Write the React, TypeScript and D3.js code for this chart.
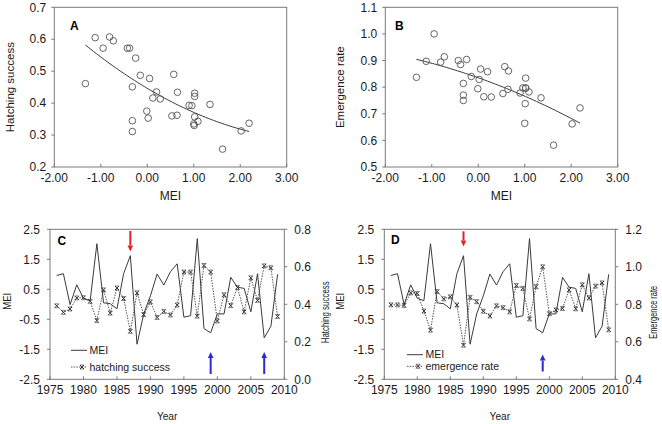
import React from 'react';
import * as d3 from 'd3';

const years = [1976, 1977, 1978, 1979, 1980, 1981, 1982, 1983, 1984, 1985, 1986, 1987, 1988, 1989, 1990, 1991, 1992, 1993, 1994, 1995, 1996, 1997, 1998, 1999, 2000, 2001, 2002, 2003, 2004, 2005, 2006, 2007, 2008, 2009];
const mei = [0.96, 1.02, -0.01, 0.65, 0.2, 0.12, 2.02, 0.05, 0.02, -0.15, 1.02, 1.62, -1.33, -0.32, 0.28, 1.01, 0.64, 1.09, 1.35, -0.43, -0.38, 2.19, -0.81, -0.95, -0.32, -0.32, 0.9, 0.57, 0.53, -0.25, 1.02, -1.12, -0.73, 1.0];
const hatching = [0.392, 0.357, 0.375, 0.434, 0.435, 0.416, 0.313, 0.477, 0.353, 0.487, 0.431, 0.256, 0.461, 0.345, 0.413, 0.33, 0.362, 0.343, 0.396, 0.572, 0.572, 0.337, 0.607, 0.572, 0.311, 0.451, 0.393, 0.49, 0.36, 0.541, 0.421, 0.605, 0.595, 0.335];
const emergence = [0.797, 0.797, 0.794, 0.861, 0.858, 0.764, 0.662, 0.868, 0.829, 0.84, 0.796, 0.582, 0.837, 0.814, 0.763, 0.738, 0.792, 0.782, 0.76, 0.9, 0.885, 0.722, 0.894, 1.0, 0.75, 0.77, 0.778, 0.877, 0.776, 0.904, 0.834, 0.897, 0.914, 0.664];

const meiScatterTicks = [-2, -1, 0, 1, 2, 3];
const hatchScatterTicks = [0.2, 0.3, 0.4, 0.5, 0.6, 0.7];
const emergScatterTicks = [0.5, 0.6, 0.7, 0.8, 0.9, 1.0, 1.1];
const yearTicks = [1975, 1980, 1985, 1990, 1995, 2000, 2005, 2010];
const meiSeriesTicks = [-2.5, -1.5, -0.5, 0.5, 1.5, 2.5];
const hatchRightTicks = [0, 0.2, 0.4, 0.6, 0.8];
const emergRightTicks = [0.4, 0.6, 0.8, 1.0, 1.2];
const redArrowYears = [1987];
const blueArrowYearsC = [1999, 2007];
const blueArrowYearsD = [1999];

const FONT = 'Liberation Sans, Arial, Helvetica, sans-serif';
const TXT = '#1a1a1a';
const FRAME = '#7a7a7a';
const LINE = '#3a3a3a';

function quadFit(xs: number[], ys: number[]) {
  const n = xs.length;
  let s1 = 0, s2 = 0, s3 = 0, s4 = 0, t0 = 0, t1 = 0, t2 = 0;
  for (let i = 0; i < n; i++) {
    const x = xs[i], y = ys[i];
    s1 += x; s2 += x * x; s3 += x * x * x; s4 += x * x * x * x;
    t0 += y; t1 += x * y; t2 += x * x * y;
  }
  const A = [[n, s1, s2], [s1, s2, s3], [s2, s3, s4]];
  const B = [t0, t1, t2];
  const det = (m: number[][]) =>
    m[0][0] * (m[1][1] * m[2][2] - m[1][2] * m[2][1]) -
    m[0][1] * (m[1][0] * m[2][2] - m[1][2] * m[2][0]) +
    m[0][2] * (m[1][0] * m[2][1] - m[1][1] * m[2][0]);
  const D = det(A);
  const c = [0, 1, 2].map((k) => {
    const M = A.map((row, r) => row.map((v, col) => (col === k ? B[r] : v)));
    return det(M) / D;
  });
  return (x: number) => c[0] + c[1] * x + c[2] * x * x;
}

type ScatterProps = {
  x0: number; x1: number; y0: number; y1: number;
  ys: number[]; yTicks: number[]; yDomain: [number, number];
  label: string; yTitle: string; titleX: number; labelX: number; labelY: number;
};

function ScatterPanel(p: ScatterProps) {
  const x = d3.scaleLinear().domain([-2, 3]).range([p.x0, p.x1]);
  const y = d3.scaleLinear().domain(p.yDomain).range([p.y1, p.y0]);
  const f = quadFit(mei, p.ys);
  const lo = d3.min(mei) as number;
  const hi = d3.max(mei) as number;
  const samples = d3.range(0, 61).map((i) => lo + (hi - lo) * i / 60);
  const line = d3.line<number>().x((v) => x(v)).y((v) => y(f(v)));
  return (
    <g>
      <rect x={p.x0} y={p.y0} width={p.x1 - p.x0} height={p.y1 - p.y0} fill="none" stroke={FRAME} strokeWidth={1} />
      {meiScatterTicks.map((t) => (
        <g key={'xt' + t}>
          <line x1={x(t)} x2={x(t)} y1={p.y1} y2={p.y1 - 3} stroke={FRAME} />
          <text x={x(t)} y={p.y1 + 15} fontSize={12} textAnchor="middle" fill={TXT} fontFamily={FONT}>{t.toFixed(2)}</text>
        </g>
      ))}
      {p.yTicks.map((t) => (
        <g key={'yt' + t}>
          <line x1={p.x0 - 3} x2={p.x0} y1={y(t)} y2={y(t)} stroke={FRAME} />
          <text x={p.x0 - 8} y={y(t)} dy="0.35em" fontSize={12} textAnchor="end" fill={TXT} fontFamily={FONT}>{t.toFixed(1)}</text>
        </g>
      ))}
      <path d={line(samples) || ''} fill="none" stroke={LINE} strokeWidth={1} />
      {mei.map((m, i) => (
        <circle key={i} cx={x(m)} cy={y(p.ys[i])} r={3.3} fill="none" stroke="#555" strokeWidth={0.9} />
      ))}
      <text x={(p.x0 + p.x1) / 2} y={200} fontSize={12} textAnchor="middle" fill={TXT} fontFamily={FONT}>MEI</text>
      <text transform={`translate(${p.titleX},${(p.y0 + p.y1) / 2}) rotate(-90)`} dy="0.35em" fontSize={11.5} textAnchor="middle" fill={TXT} fontFamily={FONT}>{p.yTitle}</text>
      <text x={p.labelX} y={p.labelY} fontSize={12} fontWeight="bold" fill="#000" fontFamily={FONT}>{p.label}</text>
    </g>
  );
}

function Arrow({ x, yTail, yTip, color }: { x: number; yTail: number; yTip: number; color: string }) {
  const dir = yTip > yTail ? 1 : -1;
  const headLen = 6;
  const base = yTip - dir * headLen;
  return (
    <g>
      <line x1={x} x2={x} y1={yTail} y2={base} stroke={color} strokeWidth={2} />
      <polygon points={`${x - 2.8},${base} ${x + 2.8},${base} ${x},${yTip}`} fill={color} />
    </g>
  );
}

function Marker({ cx, cy }: { cx: number; cy: number }) {
  const s = 2;
  return (
    <g stroke="#333" strokeWidth={1}>
      <line x1={cx - s} x2={cx + s} y1={cy - s} y2={cy + s} />
      <line x1={cx - s} x2={cx + s} y1={cy + s} y2={cy - s} />
      <line x1={cx - s} x2={cx + s} y1={cy - s} y2={cy - s} strokeWidth={0.6} />
      <line x1={cx - s} x2={cx + s} y1={cy + s} y2={cy + s} strokeWidth={0.6} />
    </g>
  );
}

type SeriesProps = {
  x0: number; x1: number; y0: number; y1: number;
  right: number[]; rightTicks: number[]; rightDomain: [number, number];
  label: string; rightTitle: string; rightTitleLen: number; rightTitleX: number; leftTitleX: number;
  legendX: number; legendY1: number; legendY2: number; legendText: string;
  blue: number[]; blueTail: number; blueTip: number; redTail: number; redTip: number;
  labelX: number; labelY: number;
};

function SeriesPanel(p: SeriesProps) {
  const x = d3.scaleLinear().domain([1975, 2010]).range([p.x0, p.x1]);
  const yL = d3.scaleLinear().domain([-2.5, 2.5]).range([p.y1, p.y0]);
  const yR = d3.scaleLinear().domain(p.rightDomain).range([p.y1, p.y0]);
  const meiLine = d3.line<number>().x((_, i) => x(years[i])).y((v) => yL(v));
  const rLine = d3.line<number>().x((_, i) => x(years[i])).y((v) => yR(v));
  const midY = (p.y0 + p.y1) / 2;
  return (
    <g>
      <rect x={p.x0} y={p.y0} width={p.x1 - p.x0} height={p.y1 - p.y0} fill="none" stroke={FRAME} strokeWidth={1} />
      {yearTicks.map((t) => (
        <g key={'xt' + t}>
          <line x1={x(t)} x2={x(t)} y1={p.y1} y2={p.y1 - 3} stroke={FRAME} />
          <text x={x(t)} y={p.y1 + 15} fontSize={12} textAnchor="middle" fill={TXT} fontFamily={FONT}>{t}</text>
        </g>
      ))}
      {meiSeriesTicks.map((t) => (
        <g key={'yl' + t}>
          <line x1={p.x0 - 3} x2={p.x0} y1={yL(t)} y2={yL(t)} stroke={FRAME} />
          <text x={p.x0 - 10} y={yL(t)} dy="0.35em" fontSize={12} textAnchor="end" fill={TXT} fontFamily={FONT}>{t.toFixed(1)}</text>
        </g>
      ))}
      {p.rightTicks.map((t) => (
        <g key={'yr' + t}>
          <line x1={p.x1} x2={p.x1 + 3} y1={yR(t)} y2={yR(t)} stroke={FRAME} />
          <text x={p.x1 + 10} y={yR(t)} dy="0.35em" fontSize={12} textAnchor="start" fill={TXT} fontFamily={FONT}>{t.toFixed(1)}</text>
        </g>
      ))}
      <path d={meiLine(mei) || ''} fill="none" stroke={LINE} strokeWidth={1} />
      <path d={rLine(p.right) || ''} fill="none" stroke="#555" strokeWidth={1} strokeDasharray="1.5,1.2" />
      {p.right.map((v, i) => (
        <Marker key={i} cx={x(years[i])} cy={yR(v)} />
      ))}
      {redArrowYears.map((yr) => (
        <Arrow key={'r' + yr} x={x(yr)} yTail={p.redTail} yTip={p.redTip} color="#e3232b" />
      ))}
      {p.blue.map((yr) => (
        <Arrow key={'b' + yr} x={x(yr)} yTail={p.blueTail} yTip={p.blueTip} color="#2a2ad6" />
      ))}
      <line x1={p.legendX} x2={p.legendX + 16} y1={p.legendY1} y2={p.legendY1} stroke={LINE} strokeWidth={1} />
      <text x={p.legendX + 18.5} y={p.legendY1} dy="0.35em" fontSize={10.5} fill={TXT} fontFamily={FONT}>MEI</text>
      <line x1={p.legendX} x2={p.legendX + 16} y1={p.legendY2} y2={p.legendY2} stroke="#555" strokeWidth={1} strokeDasharray="1.5,1.2" />
      <Marker cx={p.legendX + 11} cy={p.legendY2} />
      <text x={p.legendX + 18.5} y={p.legendY2} dy="0.35em" fontSize={10.5} fill={TXT} fontFamily={FONT}>{p.legendText}</text>
      <text x={(p.x0 + p.x1) / 2} y={420} fontSize={11.5} textAnchor="middle" fill={TXT} fontFamily={FONT} textLength={20.5} lengthAdjust="spacingAndGlyphs">Year</text>
      <text transform={`translate(${p.leftTitleX},${midY - 3}) rotate(-90)`} dy="0.35em" fontSize={11.5} textAnchor="middle" fill={TXT} fontFamily={FONT} textLength={17} lengthAdjust="spacingAndGlyphs">MEI</text>
      <text transform={`translate(${p.rightTitleX},${midY + 8}) rotate(-90)`} dy="0.35em" fontSize={11.5} textAnchor="middle" fill={TXT} fontFamily={FONT} textLength={p.rightTitleLen} lengthAdjust="spacingAndGlyphs">{p.rightTitle}</text>
      <text x={p.labelX} y={p.labelY} fontSize={12} fontWeight="bold" fill="#000" fontFamily={FONT}>{p.label}</text>
    </g>
  );
}

export default function App() {
  return (
    <svg width={662} height={424} style={{ position: 'absolute', left: 0, top: 0, background: '#fff' }}>
      <rect x={0} y={0} width={662} height={424} fill="#fff" />
      <ScatterPanel x0={54.3} x1={286.7} y0={7.3} y1={167} ys={hatching} yTicks={hatchScatterTicks} yDomain={[0.2, 0.7]}
        label="A" yTitle="Hatching success" titleX={9.5} labelX={70} labelY={29.5} />
      <ScatterPanel x0={385.3} x1={617.7} y0={7.3} y1={167} ys={emergence} yTicks={emergScatterTicks} yDomain={[0.5, 1.1]}
        label="B" yTitle="Emergence rate" titleX={340} labelX={395} labelY={29.5} />
      <SeriesPanel x0={50} x1={284.3} y0={229.3} y1={379.3} right={hatching} rightTicks={hatchRightTicks} rightDomain={[0, 0.8]}
        label="C" rightTitle="Hatching success" rightTitleLen={62} rightTitleX={325} leftTitleX={7}
        legendX={71} legendY1={350.3} legendY2={367} legendText="hatching success"
        blue={blueArrowYearsC} blueTail={374} blueTip={352} redTail={231} redTip={251.5} labelX={57.5} labelY={245} />
      <SeriesPanel x0={384.3} x1={615.3} y0={229.3} y1={379.3} right={emergence} rightTicks={emergRightTicks} rightDomain={[0.4, 1.2]}
        label="D" rightTitle="Emergence rate" rightTitleLen={53} rightTitleX={652.5} leftTitleX={339.5}
        legendX={407} legendY1={354.7} legendY2={366.3} legendText="emergence rate"
        blue={blueArrowYearsD} blueTail={371.5} blueTip={354.5} redTail={231.3} redTip={246.5} labelX={391} labelY={244} />
    </svg>
  );
}
